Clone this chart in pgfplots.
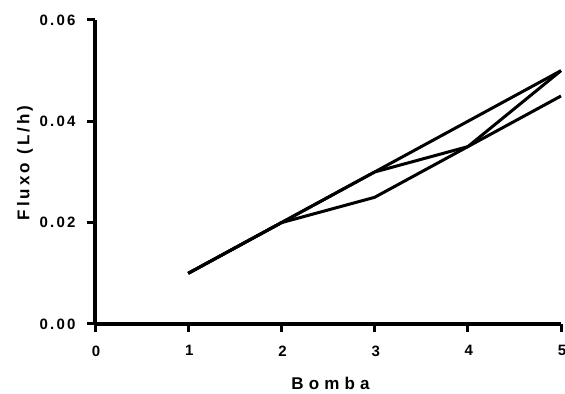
\documentclass[border=0pt]{standalone}
\usepackage{fontspec}
\setmainfont{Liberation Sans}
\usepackage{pgfplots}
\pgfplotsset{compat=1.18}
\begin{document}
\begin{tikzpicture}[x=1pt,y=1pt]
\begin{axis}[
  scale only axis, width=466pt, height=304pt,
  xmin=0, xmax=5, ymin=0, ymax=0.06,
  axis x line*=bottom, axis y line*=left,
  axis line style={line width=3.2pt, -},
  xtick={0,1,2,3,4,5}, ytick={0,0.02,0.04,0.06},
  tick align=outside, major tick length=8pt,
  tick style={line width=3pt, black},
  /pgf/number format/assume math mode=true,
  yticklabel style={/pgf/number format/fixed, /pgf/number format/precision=2, /pgf/number format/fixed zerofill},
  scaled y ticks=false,
  ticklabel style={font=\fontsize{15}{17}\selectfont\bfseries\addfontfeatures{LetterSpace=15}},
  xticklabel style={yshift=-10pt, xshift=1.1pt},
  yticklabel style={xshift=-8pt},
  xlabel={Bomba}, ylabel={Fluxo\kern9pt(L/h)},
  xlabel style={font=\fontsize{17}{19}\selectfont\bfseries\addfontfeatures{LetterSpace=30},
    at={(axis description cs:0.5,0)}, anchor=north, yshift=-49.7pt, xshift=2.5pt},
  ylabel style={font=\fontsize{17}{19}\selectfont\bfseries\addfontfeatures{LetterSpace=17},
    at={(axis description cs:-0.15,0.53)}, anchor=center},
  clip=false,
]
\addplot[black, line width=3pt] coordinates {(1,0.01)(2,0.02)(3,0.03)(4,0.04)(5,0.05)};
\addplot[black, line width=3pt] coordinates {(1,0.01)(2,0.02)(3,0.025)(4,0.035)(5,0.045)};
\addplot[black, line width=3pt] coordinates {(1,0.01)(2,0.02)(3,0.03)(4,0.035)(5,0.05)};
\end{axis}
\pgfresetboundingbox
\useasboundingbox ([xshift=-95pt,yshift=-70pt]current axis.south west) rectangle ([xshift=4pt,yshift=20pt]current axis.north east);
\end{tikzpicture}
\end{document}
